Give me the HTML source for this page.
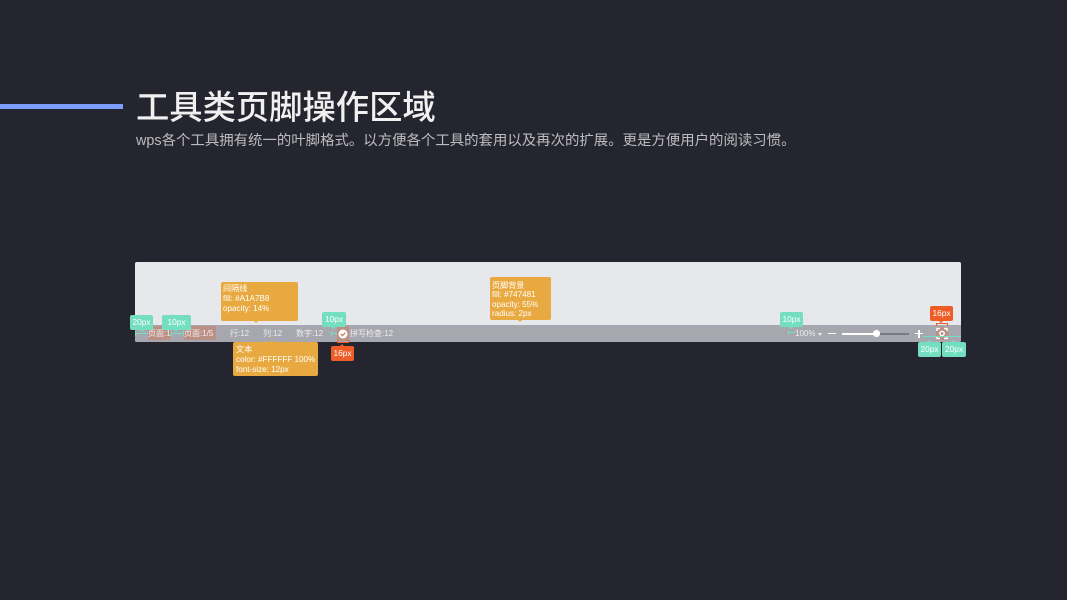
<!DOCTYPE html>
<html><head><meta charset="utf-8">
<style>
html,body{margin:0;padding:0;background:#25252f;width:1067px;height:600px;overflow:hidden}
body{position:relative;font-family:"Liberation Sans","Noto Sans CJK SC",sans-serif}
.a{position:absolute}
.t{position:absolute;white-space:nowrap;line-height:1}
.f{position:absolute;white-space:nowrap;font-size:8px;line-height:17px;top:325px;height:17px;color:#eeeef0}
.g{position:absolute;background:#74dfc0;color:#fff;font-size:8.3px;line-height:15px;height:15px;text-align:center;border-radius:2px}
.r{position:absolute;background:#ee5d27;color:#fff;font-size:8.3px;line-height:15px;height:15px;text-align:center;border-radius:2px}
.o{position:absolute;background:#e9a941;color:#fff;font-size:8.1px;border-radius:2px;box-sizing:border-box;white-space:nowrap}
.tri{position:absolute;width:0;height:0;border-left:2.5px solid transparent;border-right:2.5px solid transparent}
.ln{position:absolute;background:#74dfc0;height:1px}
.tick{position:absolute;background:#74dfc0;width:1px;height:5px}
.rt{position:absolute;background:#ee5d27;width:1px;height:3px}
.hl{position:absolute;background:rgba(226,110,70,.4)}
.sep{position:absolute;top:325px;height:17px;width:1px;background:rgba(161,167,184,.35)}
</style></head><body>
<div class="a" style="left:0;top:104px;width:123px;height:5px;background:#7b9dfb"></div>
<div class="t" style="left:136px;top:90px;font-size:33.3px;line-height:34px;color:#f0f0f0;font-weight:500;margin-top:2px">工具类页脚操作区域</div>
<div class="t" style="left:136px;top:133px;font-size:14.42px;line-height:17px;color:#bcbcc0">wps各个工具拥有统一的叶脚格式。以方便各个工具的套用以及再次的扩展。更是方便用户的阅读习惯。</div>

<div class="a" style="left:135px;top:262px;width:826px;height:80px;background:#e7e8ec;border-radius:2px"></div>
<div class="a" style="left:135px;top:325px;width:826px;height:17px;background:#a6a7af;border-radius:0 0 2px 2px"></div>

<div class="hl" style="left:148px;top:326px;width:22px;height:14px"></div>
<div class="hl" style="left:184px;top:326px;width:32px;height:14px"></div>
<div class="hl" style="left:337px;top:326px;width:12px;height:15px"></div>
<div class="hl" style="left:936px;top:327px;width:12px;height:13px"></div>

<div class="sep" style="left:177px"></div>
<div class="sep" style="left:222px"></div>
<div class="sep" style="left:255px"></div>
<div class="sep" style="left:289px"></div>
<div class="sep" style="left:330px"></div>

<div class="f" style="left:148px">页面:1</div>
<div class="f" style="left:184px">页面:1/5</div>
<div class="f" style="left:230px">行:12</div>
<div class="f" style="left:263px">列:12</div>
<div class="f" style="left:296px">数字:12</div>
<svg class="a" style="left:338px;top:329px" width="10" height="10" viewBox="0 0 10 10"><circle cx="5" cy="5" r="4.5" fill="#fff"/><path d="M2.8 5l1.600 1.700 2.900-3" fill="none" stroke="#c9765a" stroke-width="1.200"/></svg>
<div class="f" style="left:350px">拼写检查:12</div>
<div class="f" style="left:795px">100%</div>
<div class="tri" style="left:818px;top:333px;border-top:3px solid #eee"></div>
<div class="a" style="left:828px;top:333px;width:8px;height:1.200px;background:#fff"></div>
<div class="a" style="left:842px;top:333px;width:34px;height:1.500px;background:#fff"></div>
<div class="a" style="left:876px;top:333px;width:33px;height:1.500px;background:#777a84"></div>
<div class="a" style="left:873px;top:330px;width:6.500px;height:6.500px;background:#fff;border-radius:50%"></div>
<div class="a" style="left:915px;top:333px;width:8px;height:1.200px;background:#fff"></div>
<div class="a" style="left:918.400px;top:329.500px;width:1.200px;height:8px;background:#fff"></div>
<svg class="a" style="left:936px;top:327px" width="12" height="13" viewBox="0 0 12 13"><path d="M1 4V1.500h3M8 1.500h3V4M1 9v2.500h3M8 11.500h3V9" fill="none" stroke="#fff" stroke-width="1.500"/><circle cx="6" cy="6.500" r="2.200" fill="none" stroke="#fff" stroke-width="1.400"/></svg>

<!-- measure lines -->
<div class="ln" style="left:135px;top:333px;width:13px"></div>
<div class="tick" style="left:135px;top:331px"></div>
<div class="ln" style="left:171px;top:333px;width:12px"></div>
<div class="tick" style="left:171px;top:331px"></div><div class="tick" style="left:183px;top:331px"></div>
<div class="ln" style="left:331px;top:333px;width:6px"></div>
<div class="tick" style="left:331px;top:331px"></div>
<div class="ln" style="left:788px;top:332px;width:7px"></div>
<div class="tick" style="left:788px;top:330px"></div>
<div class="ln" style="left:923px;top:336px;width:38px"></div>
<div class="a" style="left:936px;top:323px;width:12px;height:1px;background:#ee5d27"></div>
<div class="rt" style="left:936px;top:323px"></div><div class="rt" style="left:947px;top:323px"></div>
<div class="a" style="left:337px;top:342px;width:12px;height:1px;background:#ee5d27"></div>
<div class="rt" style="left:337px;top:340px"></div><div class="rt" style="left:348px;top:340px"></div>

<!-- green tags -->
<div class="g" style="left:130px;top:315px;width:23px">20px</div><div class="tri" style="left:140px;top:330px;border-top:2px solid #74dfc0"></div>
<div class="g" style="left:162px;top:315px;width:29px">10px</div><div class="tri" style="left:174px;top:330px;border-top:2px solid #74dfc0"></div>
<div class="g" style="left:322px;top:312px;width:24px">10px</div><div class="tri" style="left:331px;top:327px;border-top:2px solid #74dfc0"></div>
<div class="g" style="left:780px;top:312px;width:23px">10px</div><div class="tri" style="left:789px;top:327px;border-top:2px solid #74dfc0"></div>
<div class="g" style="left:918px;top:342px;width:23px">20px</div><div class="tri" style="left:927px;top:340px;border-bottom:2px solid #74dfc0"></div>
<div class="g" style="left:942px;top:342px;width:24px">20px</div><div class="tri" style="left:951px;top:340px;border-bottom:2px solid #74dfc0"></div>

<!-- red tags -->
<div class="r" style="left:331px;top:346px;width:23px">16px</div><div class="tri" style="left:340px;top:344px;border-bottom:2px solid #ee5d27"></div>
<div class="r" style="left:930px;top:306px;width:23px">16px</div><div class="tri" style="left:939px;top:321px;border-top:2px solid #ee5d27"></div>

<!-- orange notes -->
<div class="o" style="left:221px;top:282px;width:77px;height:39px;padding:2px 0 0 2px;line-height:10.200px">间隔线<br>fill: #A1A7B8<br>opacity: 14%</div><div class="tri" style="left:254px;top:321px;border-top:2px solid #e9a941"></div>
<div class="o" style="left:233px;top:342px;width:85px;height:34px;padding:3px 0 0 3px;line-height:10px">文本<br>color: #FFFFFF 100%<br>font-size: 12px</div><div class="tri" style="left:270px;top:340px;border-bottom:2px solid #e9a941"></div>
<div class="o" style="left:490px;top:277px;width:61px;height:43px;padding:4px 0 0 2px;line-height:9.300px">页脚背景<br>fill: #747481<br>opacity: 55%<br>radius: 2px</div><div class="tri" style="left:518px;top:320px;border-top:2px solid #e9a941"></div>
</body></html>
